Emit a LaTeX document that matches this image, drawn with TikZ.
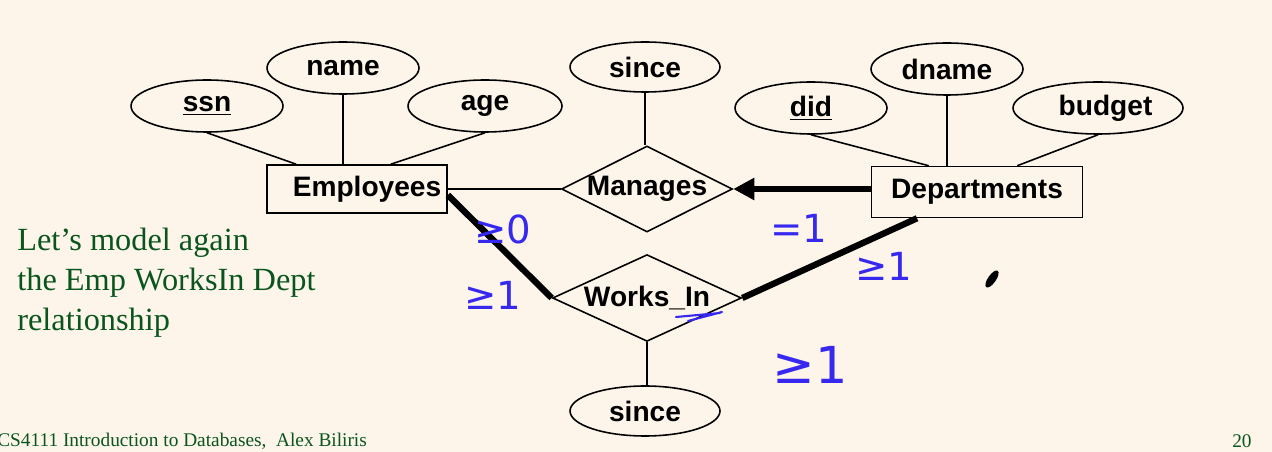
\documentclass[tikz,border=0pt]{standalone}
\usepackage{fontspec}
\setmainfont{Liberation Serif}
\setsansfont{Liberation Sans}
\newfontfamily\penfont{DejaVu Sans}
\usepackage{xcolor}
\usetikzlibrary{shapes.geometric}
\usetikzlibrary{arrows.meta}
\definecolor{slidebg}{RGB}{253,245,234}
\definecolor{slidegreen}{RGB}{10,85,30}
\definecolor{penblue}{RGB}{55,40,240}
\tikzset{erfont/.style = {font=\sffamily\bfseries\fontsize{16}{19}\selectfont}}
\tikzset{attr/.style = {draw, ellipse, erfont, line width=0.9pt, inner sep=0,
                        minimum width=3.04cm, minimum height=1.04cm}}
\tikzset{entity/.style = {draw, rectangle, erfont, line width=0.9pt, inner sep=0}}
\tikzset{rel/.style = {draw, diamond, aspect=2, erfont, line width=0.9pt, inner sep=0}}
\tikzset{link/.style = {line width=0.9pt}}
\tikzset{heavy/.style = {line width=3.6pt}}
\tikzset{pen/.style = {text=penblue, inner sep=0, font=\penfont\fontsize{22}{22}\selectfont}}

\begin{document}
\begin{tikzpicture}[x=0.02cm, y=-0.02cm]
      \fill [slidebg] (0,0) rectangle (1272,452);
      \useasboundingbox (0,0) rectangle (1272,452);

      \node [attr] (ssn) at (207,106) {\underline{ssn}};
      \node [attr] (name) at (343,68) {name};
      \node [attr, minimum width=3.08cm] (age) at (485,106) {age};
      \node [entity, minimum width=3.6cm, minimum height=0.96cm] (emp) at (357,189) {\hspace{0.4cm}Employees};

      \node [attr, minimum width=3cm, minimum height=1cm] (since1) at (645,67) {since};
      \node [rel, minimum width=3.4cm, minimum height=1.72cm] (manages) at (647,189) {Manages};
      \node [rel, minimum width=3.78cm, minimum height=1.7cm] (works) at (647,298) {Works\_In};
      \node [attr, minimum width=3cm, minimum height=1cm] (since2) at (645,411) {since};

      \node [attr] (did) at (811,108) {\underline{did}};
      \node [attr] (dname) at (947,69) {dname};
      \node [attr, minimum width=3.4cm] (budget) at (1098,108) {\hspace{0.3cm}budget};
      \node [entity, minimum width=4.22cm, minimum height=1.02cm] (dept) at (977,192) {Departments};

      \draw [link] (ssn.south) -- ([xshift=0.6cm]emp.north west);
      \draw [link] (name.south) -- (name.south |- emp.north);
      \draw [link] (age.south) -- ([xshift=-1.14cm]emp.north east);
      \draw [link] (did.south) -- ([xshift=1.16cm]dept.north west);
      \draw [link] (dname.south) -- (dname.south |- dept.north);
      \draw [link] (budget.south) -- ([xshift=-1.32cm]dept.north east);
      \draw [link] (since1.south) -- (since1.south |- manages.north);
      \draw [link] (works.south) -- (works.south |- since2.north);
      \draw [link] (emp.east) -- (manages.west);

      \draw [heavy, -{Triangle[length=12pt, width=12pt]}] (dept.west |- manages) -- (manages.east);
      \draw [heavy] ([yshift=-0.12cm]emp.east) -- (works.west);
      \draw [heavy] ([xshift=-1.2cm]dept.south) -- (works.east);

      \node [pen] (empmin) at (503,229) {≥0};
      \node [pen] (empmax) at (493,295) {≥1};
      \node [pen] (deptone) at (799,228) {=1};
      \node [pen] (deptmin) at (884,266) {≥1};
      \node [pen, font=\penfont\fontsize{29}{29}\selectfont] (worksmin) at (810,365) {≥1};
      \draw [penblue, line width=1.2pt, line cap=round] (676,317) -- (720,313) (688,321) -- (722,312);
      \fill [rotate around={55:(992,279)}] (992,279) ellipse [x radius=0.2cm, y radius=0.08cm];

      \node [anchor=west, align=left, inner sep=0, text=slidegreen,
             font=\fontsize{18.4}{22.8}\selectfont] (note) at (17,283)
            {Let’s model again\\the Emp WorksIn Dept\\relationship};
      \node [anchor=west, inner sep=0, text=slidegreen, font=\fontsize{11}{13}\selectfont]
            (footer) at (-3,441) {CS4111 Introduction to Databases,\ \ Alex Biliris};
      \node [anchor=east, inner sep=0, text=slidegreen, font=\fontsize{11}{13}\selectfont]
            (pageno) at (1252,441) {20};
\end{tikzpicture}
\end{document}
